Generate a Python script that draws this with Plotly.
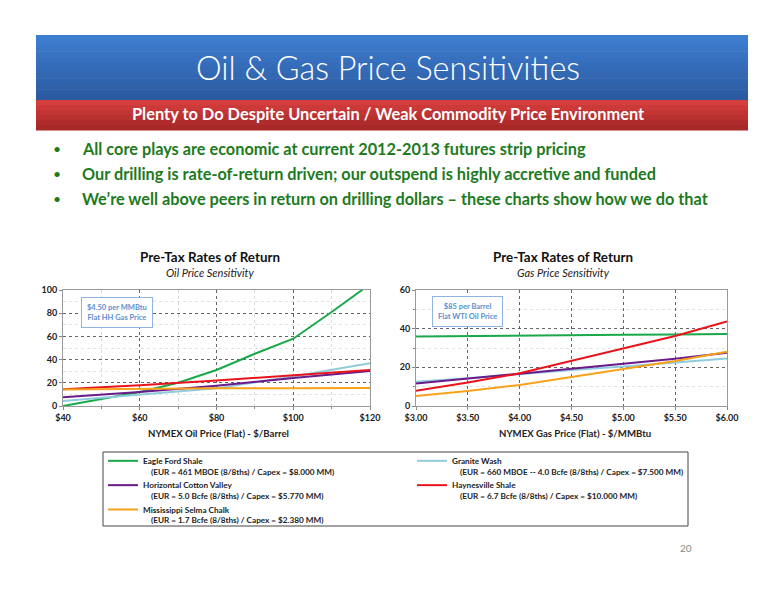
import plotly.graph_objects as go

# ---- data ----
series_names = [
    "Eagle Ford Shale",
    "Granite Wash",
    "Horizontal Cotton Valley",
    "Haynesville Shale",
    "Mississippi Selma Chalk",
]
series_details = [
    "(EUR = 461 MBOE (8/8ths) / Capex = $8.000 MM)",
    "(EUR = 660 MBOE -- 4.0 Bcfe (8/8ths) / Capex = $7.500 MM)",
    "(EUR = 5.0 Bcfe (8/8ths) / Capex = $5.770 MM)",
    "(EUR = 6.7 Bcfe (8/8ths) / Capex = $10.000 MM)",
    "(EUR = 1.7 Bcfe (8/8ths) / Capex = $2.380 MM)",
]
colors = ["#1aa84a", "#8fcbdc", "#6a1a8a", "#e8141c", "#f7a21b"]

# oil price sensitivity ($/bbl vs pre-tax ROR %)
oil_price_fine = [40, 50, 60, 70, 80, 90, 100, 110, 120]
oil_price = [40, 60, 80, 100, 120]
oil_eagle_ford = [0, 6, 12, 20, 31, 45, 58, 81, 105]
oil_granite_wash = [4.3, 9.5, 15.2, 25.5, 36.8]
oil_cotton_valley = [7.5, 12.1, 17.5, 24.2, 30.2]
oil_haynesville = [14.5, 17.8, 22.0, 26.3, 31.0]
oil_selma_chalk = [14.2, 15.0, 15.2, 15.4, 15.5]

# gas price sensitivity ($/MMBtu vs pre-tax ROR %)
gas_price = [3.00, 3.50, 4.00, 4.50, 5.00, 5.50, 6.00]
gas_eagle_ford = [35.9, 36.2, 36.5, 36.7, 36.8, 37.0, 37.2]
gas_granite_wash = [12.6, 14.3, 16.4, 18.6, 20.4, 22.4, 24.6]
gas_cotton_valley = [11.7, 14.1, 16.7, 19.3, 21.8, 24.4, 27.5]
gas_haynesville = [7.9, 12.1, 16.9, 23.4, 29.7, 36.2, 43.7]
gas_selma_chalk = [5.2, 7.8, 10.9, 15.0, 19.2, 23.3, 28.1]

bullets = [
    "All core plays are economic at current 2012-2013 futures strip pricing",
    "Our drilling is rate-of-return driven; our outspend is highly accretive and funded",
    "We\u2019re well above peers in return on drilling dollars \u2013 these charts show how we do that",
]

W, H = 776, 600
FONT = "Lato"


def px_x(v):
    return v / W


def px_y(v):
    return 1 - v / H


oil_sets = [
    (oil_price_fine, oil_eagle_ford),
    (oil_price, oil_granite_wash),
    (oil_price, oil_cotton_valley),
    (oil_price, oil_haynesville),
    (oil_price, oil_selma_chalk),
]
gas_sets = [gas_eagle_ford, gas_granite_wash, gas_cotton_valley,
            gas_haynesville, gas_selma_chalk]

fig = go.Figure()

nb = "\u00a0"
for i, name in enumerate(series_names):
    xs, ys = oil_sets[i]
    fig.add_trace(go.Scatter(
        x=xs, y=ys, mode="lines", name=name + "<br>" + nb * 4 + series_details[i],
        line=dict(color=colors[i], width=2), legendgroup=name,
        xaxis="x", yaxis="y", hoverinfo="skip",
    ))
for i, name in enumerate(series_names):
    fig.add_trace(go.Scatter(
        x=gas_price, y=gas_sets[i], mode="lines", name=name,
        line=dict(color=colors[i], width=2), legendgroup=name, showlegend=False,
        xaxis="x2", yaxis="y2", hoverinfo="skip",
    ))

tick_font = dict(family=FONT, size=9, color="#222", weight="bold")
grid_common = dict(
    showgrid=True, gridcolor="#666", griddash="dot", gridwidth=1,
    showline=True, linecolor="#999", linewidth=1, mirror=True,
    ticks="outside", ticklen=3, tickcolor="#888", tickfont=tick_font,
    zeroline=False, fixedrange=True, automargin=False,
)

fig.update_layout(
    width=W, height=H, autosize=False,
    margin=dict(l=0, r=0, t=0, b=0, pad=0),
    paper_bgcolor="white", plot_bgcolor="white",
    font=dict(family=FONT),
    xaxis=dict(domain=[px_x(63), px_x(370)], anchor="y", range=[40, 120],
               dtick=20, tickprefix="$",
               minor=dict(dtick=10, showgrid=True, gridcolor="#d8d8d8",
                          ticks="outside", ticklen=2, tickcolor="#888"),
               **grid_common),
    yaxis=dict(domain=[px_y(406), px_y(290)], anchor="x", range=[0, 100], dtick=20,
               minor=dict(dtick=10, showgrid=True, gridcolor="#e2e2e2"),
               **grid_common),
    xaxis2=dict(domain=[px_x(416), px_x(727)], anchor="y2", range=[3, 6],
                dtick=0.5, tickprefix="$", tickformat=".2f", **grid_common),
    yaxis2=dict(domain=[px_y(406), px_y(290)], anchor="x2", range=[0, 60], dtick=20,
                minor=dict(dtick=10, showgrid=True, gridcolor="#e2e2e2",
                           ticks="outside", ticklen=2, tickcolor="#888"),
                **grid_common),
    showlegend=True,
    legend=dict(orientation="h", x=px_x(103), y=px_y(449), xanchor="left", yanchor="top",
                entrywidth=264, entrywidthmode="pixels", valign="top",
                itemwidth=30, tracegroupgap=0,
                font=dict(family=FONT, size=8.2, color="#222", weight="bold"),
                bgcolor="rgba(0,0,0,0)", borderwidth=0),
)

shapes = []
# header bands with a simple vertical gradient
blue_top, blue_bot = (62, 126, 208), (44, 90, 160)
steps = 12
for k in range(steps):
    t = k / (steps - 1)
    c = tuple(int(blue_top[j] + (blue_bot[j] - blue_top[j]) * t) for j in range(3))
    y0 = 35 + 65 * k / steps
    y1 = 35 + 65 * (k + 1) / steps
    shapes.append(dict(type="rect", xref="paper", yref="paper",
                       x0=px_x(36), x1=px_x(748), y0=px_y(y1 + 0.5), y1=px_y(y0),
                       fillcolor="rgb(%d,%d,%d)" % c, line=dict(width=0), layer="below"))
red_top, red_bot = (212, 62, 60), (168, 40, 40)
for k in range(6):
    t = k / 5
    c = tuple(int(red_top[j] + (red_bot[j] - red_top[j]) * t) for j in range(3))
    y0 = 100 + 30 * k / 6
    y1 = 100 + 30 * (k + 1) / 6
    shapes.append(dict(type="rect", xref="paper", yref="paper",
                       x0=px_x(36), x1=px_x(748), y0=px_y(y1 + 0.5), y1=px_y(y0),
                       fillcolor="rgb(%d,%d,%d)" % c, line=dict(width=0), layer="below"))
# legend frame
shapes.append(dict(type="rect", xref="paper", yref="paper",
                   x0=px_x(103), x1=px_x(688), y0=px_y(526), y1=px_y(452),
                   line=dict(color="#444", width=1), fillcolor="rgba(0,0,0,0)"))
fig.update_layout(shapes=shapes)


def note(text, x, y, size, color="#222", xanchor="center", xref="paper", yref="paper",
         weight="normal", **kw):
    return dict(text=text, x=x, y=y, xref=xref, yref=yref, showarrow=False,
                xanchor=xanchor, yanchor="middle",
                font=dict(family=FONT, size=size, color=color, weight=weight), **kw)


ann = []
ann.append(note("Oil & Gas Price Sensitivities", 0.5, px_y(67), 32.4, "white", weight=300))
ann.append(note("<b>Plenty to Do Despite Uncertain / Weak Commodity Price Environment</b>",
                0.5, px_y(114), 16.4, "white"))
for i, b in enumerate(bullets):
    yy = px_y(149 + 24.5 * i)
    ann.append(note("\u2022", px_x(57), yy, 14, "#1e7a1e"))
    ann.append(note("<b>" + b + "</b>", px_x(80), yy, 16.3, "#1e7a1e", xanchor="left"))

for cx, sub, xtitle, xt_c in [
    (210, "Oil Price Sensitivity", "NYMEX Oil Price (Flat) - $/Barrel", 218),
    (563, "Gas Price Sensitivity", "NYMEX Gas Price (Flat) - $/MMBtu", 575),
]:
    ann.append(note("<b>Pre-Tax Rates of Return</b>", px_x(cx), px_y(257), 13.4, "#111"))
    ann.append(note("<i>" + sub + "</i>", px_x(cx), px_y(272), 11))
    ann.append(note("<b>" + xtitle + "</b>", px_x(xt_c), px_y(433), 9.6))

box_kw = dict(bgcolor="white", bordercolor="#8fb4e2", borderwidth=1, borderpad=5, align="center")
ann.append(note("<b>$4.50 per MMBtu<br>Flat HH Gas Price</b>", 54, 81, 7.5, "#5b8fd2",
                xref="x", yref="y", **box_kw))
ann.append(note("<b>$85 per Barrel<br>Flat WTI Oil Price</b>", 3.5, 48.8, 7.5, "#5b8fd2",
                xref="x2", yref="y2", **box_kw))
ann.append(note("20", px_x(686), px_y(548), 10, "#888"))
fig.update_layout(annotations=ann)

# the page's default body margin would shift the figure by 8px
fig.write_html("out.html", config={"displayModeBar": False},
               post_script="document.body.style.margin='0';")
